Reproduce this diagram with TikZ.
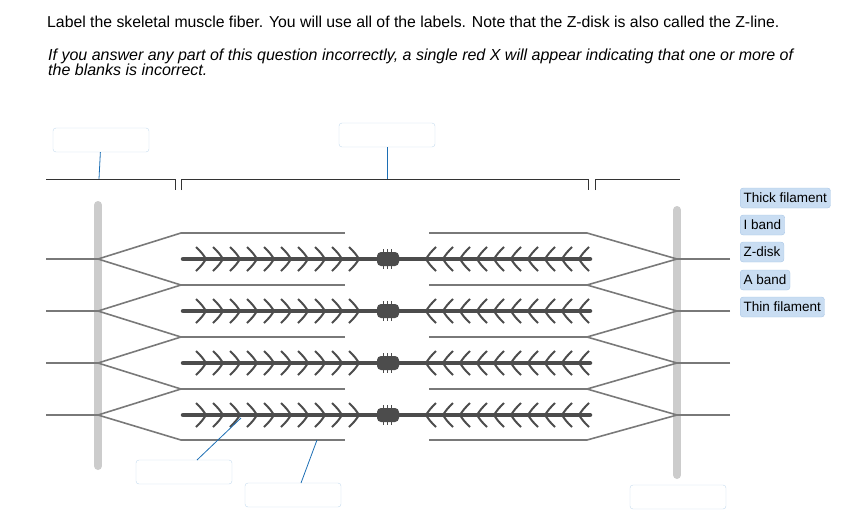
\documentclass[tikz,border=0pt]{standalone}
\usepackage{fontspec}
\setmainfont{Liberation Sans}
\definecolor{tagfill}{HTML}{C9DDF2}
\definecolor{tagdraw}{HTML}{A9C6E6}
\definecolor{blankdraw}{HTML}{C5DBEE}
\definecolor{leadc}{HTML}{1C6EB4}
\begin{document}
\begin{tikzpicture}[x=1pt,y=-1pt,
  blank/.style={draw=blankdraw, rounded corners=3pt, minimum width=96pt, minimum height=24pt, fill=white},
  tag/.style={fill=tagfill, draw=tagdraw, rounded corners=3pt, anchor=west, font=\fontsize{13.5}{15}\selectfont, inner sep=3.5pt, minimum height=20pt},
  thin/.style={draw=gray!95!black, line width=1.6pt},
  zline/.style={draw=gray!40, line width=8pt, line cap=round},
  thick/.style={draw=black!70, line width=4.5pt, line cap=round},
  chev/.style={draw=black!70, line width=2pt},
  brk/.style={draw=black!80, line width=1pt},
  lead/.style={draw=leadc, line width=0.8pt}]
\useasboundingbox (0,0) rectangle (845,517);
\node[anchor=west, inner sep=0pt, font=\fontsize{15.8}{18}\selectfont] (t1) at (47,22) {Label the skeletal muscle fiber. You will use all of the labels. Note that the Z-disk is also called the Z-line.};
\node[anchor=north west, align=left, inner sep=0pt, font=\fontsize{16}{15}\selectfont\itshape] (t2) at (48,49) {If you answer any part of this question incorrectly, a single red X will appear indicating that one or more of\\the blanks is incorrect.};
% brackets
\draw[brk] (46,179) -- (175,179) -- (175,190);
\draw[brk] (181,190) -- (181,179) -- (588,179) -- (588,190);
\draw[brk] (595,190) -- (595,179) -- (680,179);
% Z lines
\draw[zline] (98,205) -- (98,466);
\draw[zline] (677,210) -- (677,475);
% thin filaments
\foreach \y in {233,285,337,389,440}{
  \draw[thin] (181,\y) -- (345,\y);
  \draw[thin] (429,\y) -- (587,\y);
}
\foreach \y/\a/\b in {259/233/285,311/285/337,363/337/389,415/389/440}{
  \draw[thin] (46,\y) -- (98,\y);
  \draw[thin] (181,\a) -- (98,\y) -- (181,\b);
  \draw[thin] (730,\y) -- (677,\y);
  \draw[thin] (587,\a) -- (677,\y) -- (587,\b);
  \draw[thick] (183,\y) -- (590,\y);
  \fill[black!70, rounded corners=4pt] (377,\y-7) rectangle (399,\y+7);
  \foreach \dx in {-5,-1,3}{\draw[black!70,line width=0.8pt] (388+\dx,\y-10)--(388+\dx,\y+10);}
  \foreach \i in {0,...,9}{
    \draw[chev] (196+17*\i,\y-12) .. controls (202+17*\i,\y-6) .. (206+17*\i,\y) .. controls (202+17*\i,\y+6) .. (196+17*\i,\y+12);
    \draw[chev] (436+17*\i,\y-12) .. controls (430+17*\i,\y-6) .. (426+17*\i,\y) .. controls (430+17*\i,\y+6) .. (436+17*\i,\y+12);
  }
}
% blanks
\node[blank] (b1) at (101,140) {};
\node[blank] (b2) at (387,135) {};
\node[blank] (b3) at (184,472) {};
\node[blank] (b4) at (293,495) {};
\node[blank] (b5) at (678,497) {};
\coordinate (p1) at (99,179);
\coordinate (p2) at (387,179);
\coordinate (p3) at (241,418);
\coordinate (p4) at (317,440);
\draw[lead] (b1) -- (p1);
\draw[lead] (b2) -- (p2);
\draw[lead] (197,460) -- (p3);
\draw[lead] (301,483) -- (p4);
% tags
\node[tag] (l1) at (740,198) {Thick filament};
\node[tag] (l2) at (740,225) {I band};
\node[tag] (l3) at (740,252) {Z-disk};
\node[tag] (l4) at (740,280) {A band};
\node[tag] (l5) at (740,307) {Thin filament};
\end{tikzpicture}
\end{document}
